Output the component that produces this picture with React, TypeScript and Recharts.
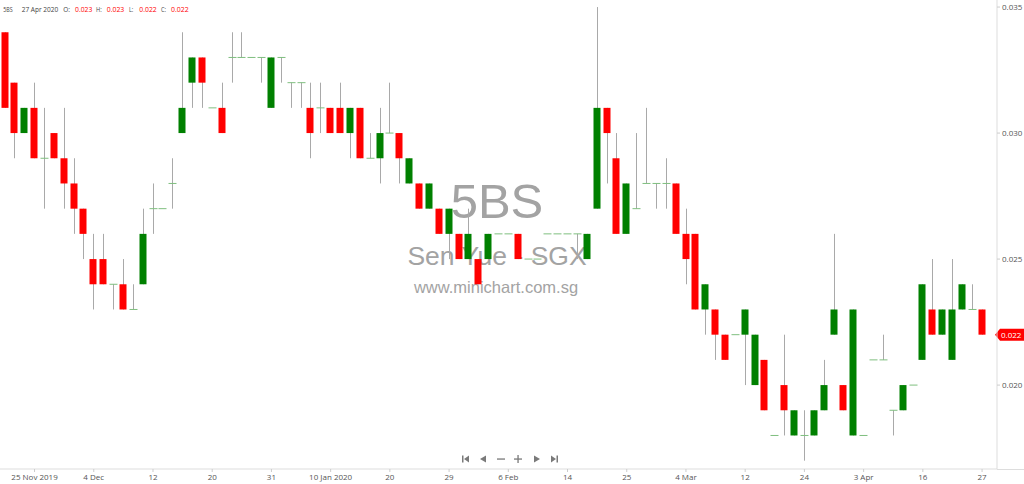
import { ComposedChart, Bar, XAxis, YAxis, ReferenceLine } from "recharts";

// daily OHLC, 5BS (Sen Yue) on SGX, 100 sessions up to 27 Apr 2020
const opens = [
  0.034, 0.032, 0.030, 0.031, 0.029, 0.030, 0.029, 0.028, 0.027, 0.025,
  0.025, 0.024, 0.024, 0.023, 0.024, 0.027, 0.027, 0.028, 0.030, 0.032,
  0.033, 0.031, 0.031, 0.033, 0.033, 0.033, 0.033, 0.031, 0.033, 0.032,
  0.032, 0.031, 0.031, 0.031, 0.031, 0.030, 0.031, 0.029, 0.029, 0.030,
  0.030, 0.028, 0.028, 0.027, 0.027, 0.026, 0.026, 0.025, 0.025, 0.025,
  0.026, 0.026, 0.026, 0.025, 0.025, 0.026, 0.026, 0.026, 0.026, 0.025,
  0.027, 0.031, 0.029, 0.026, 0.027, 0.028, 0.028, 0.028, 0.028, 0.026,
  0.026, 0.023, 0.023, 0.022, 0.022, 0.022, 0.020, 0.021, 0.018, 0.020,
  0.018, 0.018, 0.018, 0.019, 0.022, 0.020, 0.018, 0.018, 0.021, 0.021,
  0.019, 0.019, 0.020, 0.021, 0.023, 0.022, 0.021, 0.023, 0.023, 0.023,
];
const highs = [
  0.034, 0.032, 0.031, 0.032, 0.031, 0.030, 0.031, 0.029, 0.027, 0.026,
  0.026, 0.024, 0.025, 0.024, 0.027, 0.028, 0.027, 0.029, 0.034, 0.033,
  0.033, 0.031, 0.032, 0.034, 0.034, 0.033, 0.033, 0.033, 0.033, 0.032,
  0.032, 0.032, 0.032, 0.031, 0.032, 0.031, 0.031, 0.030, 0.031, 0.032,
  0.030, 0.029, 0.028, 0.028, 0.027, 0.027, 0.026, 0.027, 0.025, 0.026,
  0.026, 0.026, 0.026, 0.025, 0.025, 0.026, 0.026, 0.026, 0.026, 0.026,
  0.035, 0.031, 0.030, 0.028, 0.030, 0.031, 0.028, 0.029, 0.028, 0.027,
  0.026, 0.024, 0.023, 0.022, 0.022, 0.023, 0.022, 0.021, 0.018, 0.022,
  0.019, 0.019, 0.019, 0.021, 0.026, 0.020, 0.023, 0.018, 0.021, 0.022,
  0.019, 0.020, 0.020, 0.024, 0.025, 0.023, 0.025, 0.024, 0.024, 0.023,
];
const lows = [
  0.031, 0.029, 0.030, 0.029, 0.027, 0.029, 0.027, 0.026, 0.025, 0.023,
  0.024, 0.023, 0.023, 0.023, 0.024, 0.026, 0.027, 0.027, 0.030, 0.031,
  0.031, 0.031, 0.030, 0.032, 0.033, 0.033, 0.032, 0.031, 0.032, 0.031,
  0.031, 0.029, 0.030, 0.030, 0.030, 0.029, 0.029, 0.029, 0.028, 0.030,
  0.028, 0.028, 0.027, 0.027, 0.026, 0.025, 0.025, 0.025, 0.024, 0.025,
  0.026, 0.026, 0.025, 0.025, 0.025, 0.026, 0.026, 0.026, 0.025, 0.025,
  0.027, 0.028, 0.026, 0.026, 0.027, 0.028, 0.027, 0.027, 0.026, 0.024,
  0.023, 0.022, 0.021, 0.021, 0.022, 0.020, 0.020, 0.019, 0.018, 0.018,
  0.018, 0.017, 0.018, 0.019, 0.022, 0.019, 0.018, 0.018, 0.021, 0.021,
  0.018, 0.019, 0.020, 0.021, 0.022, 0.022, 0.021, 0.023, 0.023, 0.022,
];
const closes = [
  0.031, 0.030, 0.031, 0.029, 0.029, 0.029, 0.028, 0.027, 0.026, 0.024,
  0.024, 0.024, 0.023, 0.023, 0.026, 0.027, 0.027, 0.028, 0.031, 0.033,
  0.032, 0.031, 0.030, 0.033, 0.033, 0.033, 0.033, 0.033, 0.033, 0.032,
  0.032, 0.030, 0.031, 0.030, 0.030, 0.031, 0.029, 0.029, 0.030, 0.030,
  0.029, 0.029, 0.027, 0.028, 0.026, 0.027, 0.025, 0.026, 0.024, 0.026,
  0.026, 0.026, 0.025, 0.025, 0.025, 0.026, 0.026, 0.026, 0.026, 0.026,
  0.031, 0.030, 0.026, 0.028, 0.027, 0.028, 0.028, 0.028, 0.026, 0.025,
  0.023, 0.024, 0.022, 0.021, 0.022, 0.023, 0.022, 0.019, 0.018, 0.019,
  0.019, 0.018, 0.019, 0.020, 0.023, 0.019, 0.023, 0.018, 0.021, 0.021,
  0.019, 0.020, 0.020, 0.024, 0.022, 0.023, 0.023, 0.024, 0.023, 0.022,
];

// session index of each date label on the time axis
const dateTickIdx = [3, 9, 15, 21, 27, 33, 39, 45, 51, 57, 63, 69, 75, 81, 87, 93, 99];
const dateTickLabels = [
  "25 Nov 2019", "4 Dec", "12", "20", "31", "10 Jan 2020", "20", "29", "6 Feb",
  "14", "25", "4 Mar", "12", "24", "3 Apr", "16", "27",
];
const priceTicks = [0.02, 0.025, 0.03, 0.035];

const Y_MIN = 0.01667;
const Y_MAX = 0.03528;

const data = opens.map((o, i) => ({
  i,
  open: o,
  high: highs[i],
  low: lows[i],
  close: closes[i],
}));

const last = data[data.length - 1];
const FONT = "'Open Sans', 'Liberation Sans', sans-serif";

function Candle(props: any) {
  const { x, y, width, height, payload } = props;
  if (x == null || !payload) return null;
  const cx = Math.round(x + width / 2) + 0.5;
  const perUnit = height / (payload.high - Y_MIN);
  const py = (v: number) => y + (payload.high - v) * perUnit;
  const yH = py(payload.high);
  const yL = py(payload.low);
  const yO = py(payload.open);
  const yC = py(payload.close);
  const up = payload.close > payload.open;
  return (
    <g>
      {yL - yH > 0.5 && (
        <line x1={cx} x2={cx} y1={yH} y2={yL} stroke="#a9a9a9" strokeWidth={1} />
      )}
      {payload.open === payload.close ? (
        <line x1={cx - 4} x2={cx + 4} y1={yO} y2={yO} stroke="#7fbf7f" strokeWidth={1} />
      ) : (
        <rect
          x={cx - 4}
          y={Math.min(yO, yC)}
          width={7}
          height={Math.abs(yC - yO)}
          fill={up ? "#008000" : "#ff0000"}
        />
      )}
    </g>
  );
}

function PriceTag(props: any) {
  const vb = props.viewBox;
  if (!vb) return null;
  const x0 = vb.x + vb.width;
  const y = vb.y;
  return (
    <g>
      <path
        d={`M${x0 - 2},${y} L${x0 + 3},${y - 6} L${x0 + 27},${y - 6} L${x0 + 27},${y + 6} L${x0 + 3},${y + 6} Z`}
        fill="#ff0000"
      />
      <text x={x0 + 4} y={y + 3} fontSize={8} fill="#fff" fontFamily={FONT}>
        {props.value.toFixed(3)}
      </text>
    </g>
  );
}

function NavIcons() {
  const c = "#7a7a7a";
  const cy = 459;
  return (
    <svg width={1024} height={484} style={{ position: "absolute", left: 0, top: 0 }}>
      {/* first */}
      <rect x={462} y={cy - 3.5} width={1.5} height={7} fill={c} />
      <path d={`M464,${cy} L469,${cy - 3.5} L469,${cy + 3.5} Z`} fill={c} />
      {/* back */}
      <path d={`M480,${cy} L486,${cy - 3.5} L486,${cy + 3.5} Z`} fill={c} />
      {/* zoom out */}
      <rect x={497} y={cy - 0.6} width={8} height={1.3} fill={c} />
      {/* zoom in */}
      <rect x={514} y={cy - 0.6} width={8} height={1.3} fill={c} />
      <rect x={517.4} y={cy - 4} width={1.3} height={8} fill={c} />
      {/* forward */}
      <path d={`M534,${cy - 3.5} L540,${cy} L534,${cy + 3.5} Z`} fill={c} />
      {/* last */}
      <path d={`M551,${cy - 3.5} L556,${cy} L551,${cy + 3.5} Z`} fill={c} />
      <rect x={556.5} y={cy - 3.5} width={1.5} height={7} fill={c} />
    </svg>
  );
}

// header line: symbol, date and the last session's OHLC
function Header() {
  const pieces: [string, number, number, boolean][] = [
    ["5BS", 3.3, 9.4, false],
    ["27 Apr 2020", 21.7, 36.6, false],
    ["O:", 63.3, 6.7, false],
    [last.open.toFixed(3), 75, 17.3, true],
    ["H:", 96, 5.7, false],
    [last.high.toFixed(3), 106.7, 17.6, true],
    ["L:", 129, 4.3, false],
    [last.low.toFixed(3), 139.3, 17.4, true],
    ["C:", 161, 5, false],
    [last.close.toFixed(3), 171, 17.7, true],
  ];
  return (
    <svg width={1024} height={20} style={{ position: "absolute", left: 0, top: 0 }}>
      {pieces.map(([t, x, w, red], k) => (
        <text
          key={k}
          x={x}
          y={12.3}
          fontSize={7}
          fontFamily={FONT}
          fill={red ? "#ff0000" : "#444"}
          textLength={w}
          lengthAdjust="spacingAndGlyphs"
        >
          {t}
        </text>
      ))}
    </svg>
  );
}

export default function App() {
  return (
    <div
      style={{
        position: "absolute",
        left: 0,
        top: 0,
        width: 1024,
        height: 484,
        background: "#fff",
        overflow: "hidden",
        fontFamily: FONT,
      }}
    >
      {/* watermark sits behind the candles */}
      <svg width={1024} height={484} style={{ position: "absolute", left: 0, top: 0 }}>
        <g fill="#a3a3a3" fontFamily="'Liberation Sans', Arial, sans-serif" textAnchor="middle">
          <text x={497} y={218} fontSize={49}>5BS</text>
          <text x={497} y={265} fontSize={26.5}>Sen Yue - SGX</text>
          <text x={496} y={293} fontSize={16.5}>www.minichart.com.sg</text>
        </g>
        <line x1={997} x2={1024} y1={469.5} y2={469.5} stroke="#dddddd" />
      </svg>

      <div style={{ position: "absolute", left: 0, top: 0 }}>
        <ComposedChart
          width={1024}
          height={484}
          data={data}
          margin={{ top: 0, right: 0, bottom: 0, left: 0 }}
        >
          <XAxis
            dataKey="i"
            type="category"
            height={15}
            padding={{ left: 0, right: 10 }}
            ticks={dateTickIdx}
            interval={0}
            tickFormatter={(v: number) => dateTickLabels[dateTickIdx.indexOf(v)] ?? ""}
            tick={{ fontSize: 8, fill: "#555", fontFamily: FONT }}
            tickSize={3}
            tickLine={{ stroke: "#cccccc" }}
            axisLine={{ stroke: "#dddddd" }}
          />
          <YAxis
            orientation="right"
            type="number"
            width={27}
            domain={[Y_MIN, Y_MAX]}
            allowDataOverflow
            ticks={priceTicks}
            tickFormatter={(v: number) => v.toFixed(3)}
            tick={{ fontSize: 8, fill: "#555", fontFamily: FONT, textAnchor: "start" }}
            tickSize={3}
            tickLine={{ stroke: "#cccccc" }}
            axisLine={{ stroke: "#dddddd" }}
          />
          <Bar
            dataKey={(d: any) => [Y_MIN, d.high]}
            barSize={7}
            shape={<Candle />}
            isAnimationActive={false}
          />
          <ReferenceLine
            y={last.close}
            stroke="none"
            label={<PriceTag value={last.close} />}
          />
        </ComposedChart>
      </div>

      <Header />
      <NavIcons />
    </div>
  );
}
